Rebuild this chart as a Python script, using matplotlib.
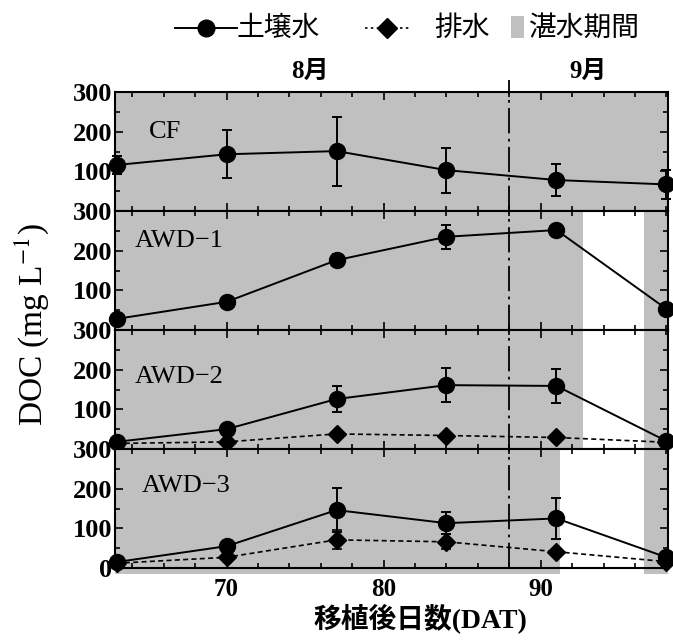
import matplotlib
matplotlib.use("Agg")
import matplotlib.pyplot as plt
from matplotlib.lines import Line2D
from matplotlib.patches import Rectangle
from matplotlib.ticker import FixedLocator, MultipleLocator, FuncFormatter

plt.rcParams['mathtext.fontset'] = 'stix'

# ---------------- data ----------------
days = [63, 70, 77, 84, 91, 98]
panel_names = ["CF", "AWD\u22121", "AWD\u22122", "AWD\u22123"]

cf_soil = [116, 143, 151, 103, 78, 67]
cf_soil_err = [22, 60, 87, 57, 41, 37]

awd1_soil = [28, 71, 176, 235, 252, 53]
awd1_soil_err = [4, 6, 15, 30, 5, 5]

awd2_soil = [18, 50, 126, 161, 159, 20]
awd2_soil_err = [4, 8, 33, 42, 42, 5]
awd2_drain = [14, 18, 38, 34, 29, 17]
awd2_drain_err = [3, 3, 4, 4, 4, 3]

awd3_soil = [15, 55, 146, 113, 125, 27]
awd3_soil_err = [4, 6, 56, 28, 52, 5]
awd3_drain = [12, 27, 71, 66, 41, 16]
awd3_drain_err = [3, 5, 24, 19, 5, 3]

# flooded periods (start day, end day) per panel
flood_cf = [(62.9, 98.1)]
flood_awd1 = [(62.9, 92.7), (96.6, 98.1)]
flood_awd2 = [(62.9, 92.7), (96.6, 98.1)]
flood_awd3 = [(62.9, 91.2), (96.6, 98.1)]

month_boundary = 88
month_labels = ["8月", "9月"]
legend_labels = ["土壌水", "排水", "湛水期間"]
xticks = [70, 80, 90]
yticks = [0, 100, 200, 300]

soil = [cf_soil, awd1_soil, awd2_soil, awd3_soil]
soil_err = [cf_soil_err, awd1_soil_err, awd2_soil_err, awd3_soil_err]
drain = [None, None, awd2_drain, awd3_drain]
drain_err = [None, None, awd2_drain_err, awd3_drain_err]
floods = [flood_cf, flood_awd1, flood_awd2, flood_awd3]

# ---------------- style ----------------
GRAY = "#c0c0c0"
W, H = 673, 641
fig = plt.figure(figsize=(W / 100, H / 100), dpi=100)

left = 115 / W
right = 668 / W
tops = [92, 211, 330, 449]
ph = 119
serif = "Liberation Serif"
cjk = ["Liberation Serif", "Noto Sans CJK JP"]
label_pos = [(0.062, 0.66), (0.036, 0.75), (0.036, 0.605), (0.049, 0.69)]

axes = []
for i in range(4):
    ax = fig.add_axes([left, 1 - (tops[i] + ph) / H, right - left, ph / H])
    axes.append(ax)
    ax.set_xlim(62.9, 98.1)
    ax.set_ylim(0, 300)
    for (a, b) in floods[i]:
        ax.axvspan(a, b, color=GRAY, lw=0, zorder=0)
    if i == 3:
        for (a, b) in floods[i]:
            ax.add_patch(Rectangle((a, -0.05), b - a, 0.05, transform=ax.get_xaxis_transform(),
                                   color=GRAY, lw=0, clip_on=False, zorder=0))
    # month boundary
    ax.axvline(month_boundary, ymin=0, ymax=(1.1 if i == 0 else 1), color="black", lw=1.3,
               linestyle=(0, (14, 3, 1.5, 3)), clip_on=False, zorder=1)
    # drainage
    if drain[i] is not None:
        ax.errorbar(days, drain[i], yerr=drain_err[i], color="black", lw=1.2,
                    linestyle=(0, (3, 2)), marker="D", markersize=9, elinewidth=1.2,
                    capsize=3.5, capthick=1.2, clip_on=False, zorder=3)
    # soil water
    ax.errorbar(days, soil[i], yerr=soil_err[i], color="black", lw=1.4, linestyle="-",
                marker="o", markersize=11.5, elinewidth=1.4, capsize=3.5, capthick=1.4,
                clip_on=False, zorder=4)
    ax.text(label_pos[i][0], label_pos[i][1], panel_names[i],
            transform=ax.transAxes, fontsize=19, family=serif, ha="left", va="center")

    ax.xaxis.set_major_locator(FixedLocator(xticks))
    ax.xaxis.set_minor_locator(MultipleLocator(2))
    ax.yaxis.set_major_locator(FixedLocator(yticks))
    ax.yaxis.set_minor_locator(MultipleLocator(50))
    ax.tick_params(which="both", direction="in", top=True, right=True, width=1.2)
    ax.tick_params(which="major", length=6)
    ax.tick_params(which="minor", length=3.5)
    ax.tick_params(axis="y", labelsize=19, pad=2)
    ax.tick_params(axis="x", labelsize=18, pad=7)
    if i < 3:
        ax.yaxis.set_major_formatter(FuncFormatter(lambda v, p: "" if v == 0 else f"{int(v)}"))
        ax.tick_params(axis="x", labelbottom=False)
    for s in ax.spines.values():
        s.set_linewidth(1.5)
    for lab in ax.get_yticklabels() + ax.get_xticklabels():
        lab.set_family(serif)
        lab.set_weight("bold")

# y label
fig.text(32 / W, 1 - 325 / H, "DOC (mg L$^{-1}$)", rotation=90, ha="center", va="center",
         fontsize=24, family=serif)
# x label
fig.text(420 / W, 1 - 618 / H, "移植後日数(DAT)", ha="center", va="center",
         fontsize=20, family=cjk, weight="bold")
# month labels
fig.text(310 / W, 1 - 71 / H, month_labels[0], ha="center", va="center", fontsize=18,
         family=cjk, weight="bold")
fig.text(588 / W, 1 - 71 / H, month_labels[1], ha="center", va="center", fontsize=18,
         family=cjk, weight="bold")

# legend (manual)
ly = 1 - 28 / H
fig.add_artist(Line2D([175 / W, 237 / W], [ly, ly], color="black", lw=1.4,
                      transform=fig.transFigure))
fig.add_artist(Line2D([206 / W], [ly], marker="o", markersize=12, color="black",
                      transform=fig.transFigure))
fig.text(237 / W, ly, legend_labels[0], ha="left", va="center", fontsize=20,
         family=["Noto Sans CJK JP"])
fig.add_artist(Line2D([365 / W, 409 / W], [ly, ly], color="black", lw=1.2,
                      linestyle=(0, (1.5, 2)), transform=fig.transFigure))
fig.add_artist(Line2D([387 / W], [ly], marker="D", markersize=10, color="black",
                      transform=fig.transFigure))
fig.text(434 / W, ly, legend_labels[1], ha="left", va="center", fontsize=20,
         family=["Noto Sans CJK JP"])
fig.add_artist(Rectangle((511 / W, 1 - 38 / H), 13 / W, 22 / H, color=GRAY, lw=0,
                         transform=fig.transFigure))
fig.text(529 / W, ly, legend_labels[2], ha="left", va="center", fontsize=20,
         family=["Noto Sans CJK JP"])

fig.savefig("out.png", dpi=100)
